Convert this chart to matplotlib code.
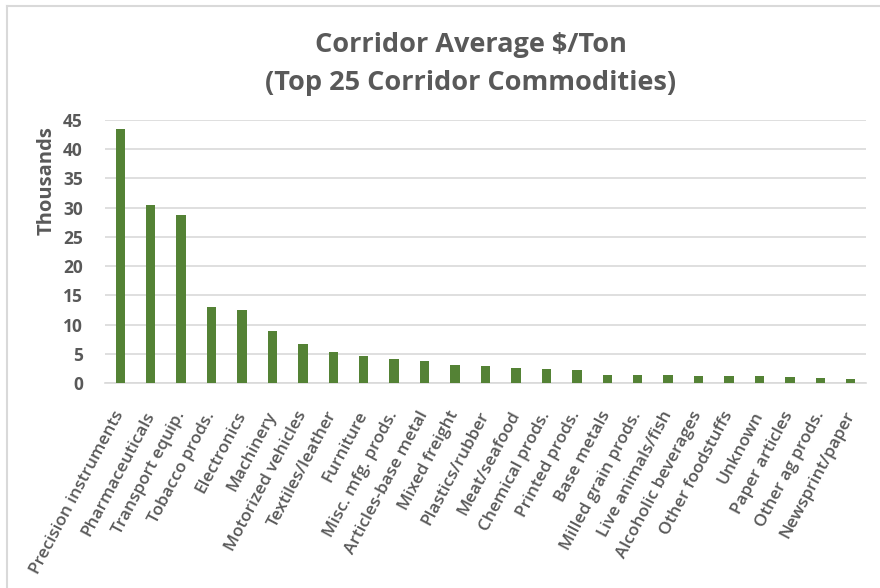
import numpy as np
import matplotlib.pyplot as plt
from matplotlib.lines import Line2D

# average $/ton by commodity, in thousands
commodities = [
	"Precision instruments", "Pharmaceuticals", "Transport equip.", "Tobacco prods.",
	"Electronics", "Machinery", "Motorized vehicles", "Textiles/leather", "Furniture",
	"Misc. mfg. prods.", "Articles-base metal", "Mixed freight", "Plastics/rubber",
	"Meat/seafood", "Chemical prods.", "Printed prods.", "Base metals",
	"Milled grain prods.", "Live animals/fish", "Alcoholic beverages",
	"Other foodstuffs", "Unknown", "Paper articles", "Other ag prods.", "Newsprint/paper",
]
dollars_per_ton = [
	43.4, 30.5, 28.7, 13.0, 12.5, 8.95, 6.7, 5.3, 4.65, 4.1, 3.8, 3.0, 2.95,
	2.6, 2.45, 2.25, 1.42, 1.38, 1.37, 1.25, 1.15, 1.14, 1.08, 0.9, 0.73,
]
y_ticks = [0, 5, 10, 15, 20, 25, 30, 35, 40, 45]

TEXT = '#595959'
BAR = '#548235'
GRID = '#d9d9d9'

plt.rcParams['font.family'] = ['Open Sans', 'DejaVu Sans']

fig = plt.figure(figsize=(8.8, 5.88), dpi=100)
ax = fig.add_axes([105 / 880, 205 / 588, 761 / 880, 263 / 588])

x = np.arange(len(commodities))
ax.bar(x, dollars_per_ton, width=0.31, color=BAR, zorder=3)

ax.set_xlim(-0.5, len(commodities) - 0.5)
ax.set_ylim(0, 45)
ax.set_yticks(y_ticks)
ax.set_yticklabels([str(t) for t in y_ticks], fontsize=12.5, fontweight='bold', color=TEXT)
ax.set_xticks(x)
ax.set_xticklabels(commodities, rotation=62, ha='right', va='center',
	rotation_mode='anchor', fontsize=12.4, fontweight='semibold', color=TEXT)
ax.tick_params(axis='x', length=0, pad=21)
ax.tick_params(axis='y', length=0, pad=16)

ax.grid(axis='y', color=GRID, linewidth=1.2, zorder=0)
for side in ['top', 'right', 'left']:
	ax.spines[side].set_visible(False)
ax.spines['bottom'].set_color(GRID)
ax.spines['bottom'].set_linewidth(1.2)

ax.set_ylabel("Thousands", fontsize=14.5, fontweight='bold', color=TEXT)
ax.yaxis.set_label_coords(-0.064, 0.77)

fig.text(0.535, 0.923, "Corridor Average $/Ton", ha='center', va='center',
	fontsize=19.5, fontweight='bold', color=TEXT)
fig.text(0.535, 0.858, "(Top 25 Corridor Commodities)", ha='center', va='center',
	fontsize=19.5, fontweight='bold', color=TEXT)

# chart frame along left and top edges
fig.add_artist(Line2D([6.5 / 880, 6.5 / 880], [0, 1 - 6 / 588], transform=fig.transFigure,
	color=GRID, linewidth=1.5))
fig.add_artist(Line2D([6.5 / 880, 1], [1 - 6 / 588, 1 - 6 / 588], transform=fig.transFigure,
	color=GRID, linewidth=1.5))

fig.savefig('out.png', dpi=100)
